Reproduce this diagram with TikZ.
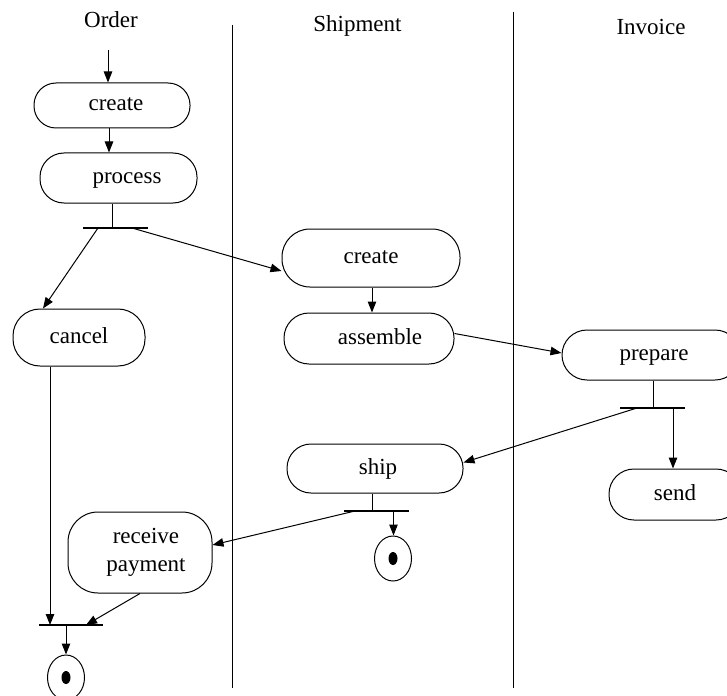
\documentclass[tikz,border=0pt]{standalone}
\usepackage{fontspec}
\setmainfont{Liberation Serif}
\usetikzlibrary{arrows.meta,shapes.geometric}
\tikzset{
  lbl/.style={font=\fontsize{23}{27}\selectfont, inner sep=0pt},
  act/.style={draw, line width=1pt, rectangle, inner sep=0pt, align=center,
              font=\fontsize{23}{28}\selectfont},
  one/.style={text height=16pt, text depth=5pt},
  barnode/.style={fill=black, inner sep=0pt, minimum height=1.3pt},
  fin/.style={draw, line width=1pt, ellipse, inner sep=0pt, minimum width=37pt, minimum height=45pt,
              path picture={\fill (path picture bounding box.center) ellipse (4.5pt and 6.5pt);}},
  arr/.style={line width=1pt, -{Triangle[length=11pt,width=8.5pt]}},
  ln/.style={line width=1pt},
  lane/.style={line width=1pt}
}
\begin{document}
\begin{tikzpicture}[x=1pt,y=-1pt]
\useasboundingbox (0,0) rectangle (727,695);
% lanes
\draw[lane] (232,25) -- (232,688);
\draw[lane] (513,12) -- (513,688);
% titles
\node[lbl, anchor=base] (tOrder) at (111,28) {Order};
\node[lbl, anchor=base] (tShip) at (357.5,32) {Shipment};
\node[lbl, anchor=base] (tInv) at (651,35) {Invoice};
% activities
\coordinate (st) at (108,50);
\node[act, one, minimum width=156pt, minimum height=45pt, rounded corners=22pt] (c1) at (112,105.5) {\hspace*{8pt}create};
\node[act, one, minimum width=157pt, minimum height=50pt, rounded corners=24pt] (proc) at (118.5,178) {\hspace*{17pt}process};
\node[act, one, minimum width=132pt, minimum height=57pt, rounded corners=27pt] (cancel) at (79,337.5) {cancel};
\node[act, one, minimum width=178pt, minimum height=58pt, rounded corners=28pt] (c2) at (371,258) {create};
\node[act, one, minimum width=170pt, minimum height=51pt, rounded corners=25pt] (asm) at (369,338.5) {\hspace*{22pt}assemble};
\node[act, one, minimum width=178pt, minimum height=50pt, rounded corners=25pt] (prep) at (651,355) {\hspace*{6pt}prepare};
\node[act, one, minimum width=132pt, minimum height=51pt, rounded corners=25pt] (send) at (675,494.5) {send};
\node[act, one, minimum width=176pt, minimum height=49pt, rounded corners=24pt] (ship) at (375,468.5) {\hspace*{6pt}ship};
\node[act, minimum width=144pt, minimum height=81pt, rounded corners=30pt] (recv) at (140,552.5) {\hspace*{12pt}receive\\\hspace*{12pt}payment};
\node[fin] (fin1) at (393,558.5) {};
\node[fin] (fin2) at (66,677.5) {};
% bars
\node[barnode, minimum width=65pt] (b1) at (115.5,228) {};
\node[barnode, minimum width=65pt] (b2) at (652.5,408) {};
\node[barnode, minimum width=65pt] (b3) at (376.5,511) {};
\node[barnode, minimum width=64pt] (b4) at (71,625) {};
% connectors
\draw[arr] (st) -- (st |- c1.north);
\draw[arr] ([xshift=-3pt]c1.south) -- ([xshift=-3pt]c1.south |- proc.north);
\draw[ln] ([xshift=-6.5pt]proc.south) -- ([xshift=-6.5pt]proc.south |- b1.center);
\draw[arr] ([xshift=-17.5pt]b1.center) -- ([xshift=-36pt]cancel.north);
\draw[arr] ([xshift=16.5pt]b1.center) -- ([yshift=-13pt]c2.west);
\draw[arr] ([xshift=1pt]c2.south) -- ([xshift=1pt]c2.south |- asm.north);
\draw[arr] ([yshift=5pt]asm.east) -- ([yshift=2pt]prep.west);
\draw[ln] ([xshift=2pt]prep.south) -- ([xshift=2pt]prep.south |- b2.center);
\draw[arr] ([xshift=-15.5pt]b2.center) -- ([yshift=6pt]ship.east);
\draw[arr] ([xshift=20.5pt]b2.center) -- ([xshift=20.5pt]b2.center |- send.north);
\draw[ln] ([xshift=-3pt]ship.south) -- ([xshift=-3pt]ship.south |- b3.center);
\draw[arr] ([xshift=17pt]b3.center) -- ([xshift=17pt]b3.center |- fin1.north);
\draw[arr] ([xshift=-21.5pt]b3.center) -- ([yshift=7.5pt]recv.east);
\draw[arr] ([xshift=-29pt]cancel.south) -- ([xshift=-29pt]cancel.south |- b4.center);
\draw[arr] (recv.south) -- ([xshift=15pt]b4.center);
\draw[arr] ([xshift=-5pt]b4.center) -- ([xshift=-5pt]b4.center |- fin2.north);
\end{tikzpicture}
\end{document}
